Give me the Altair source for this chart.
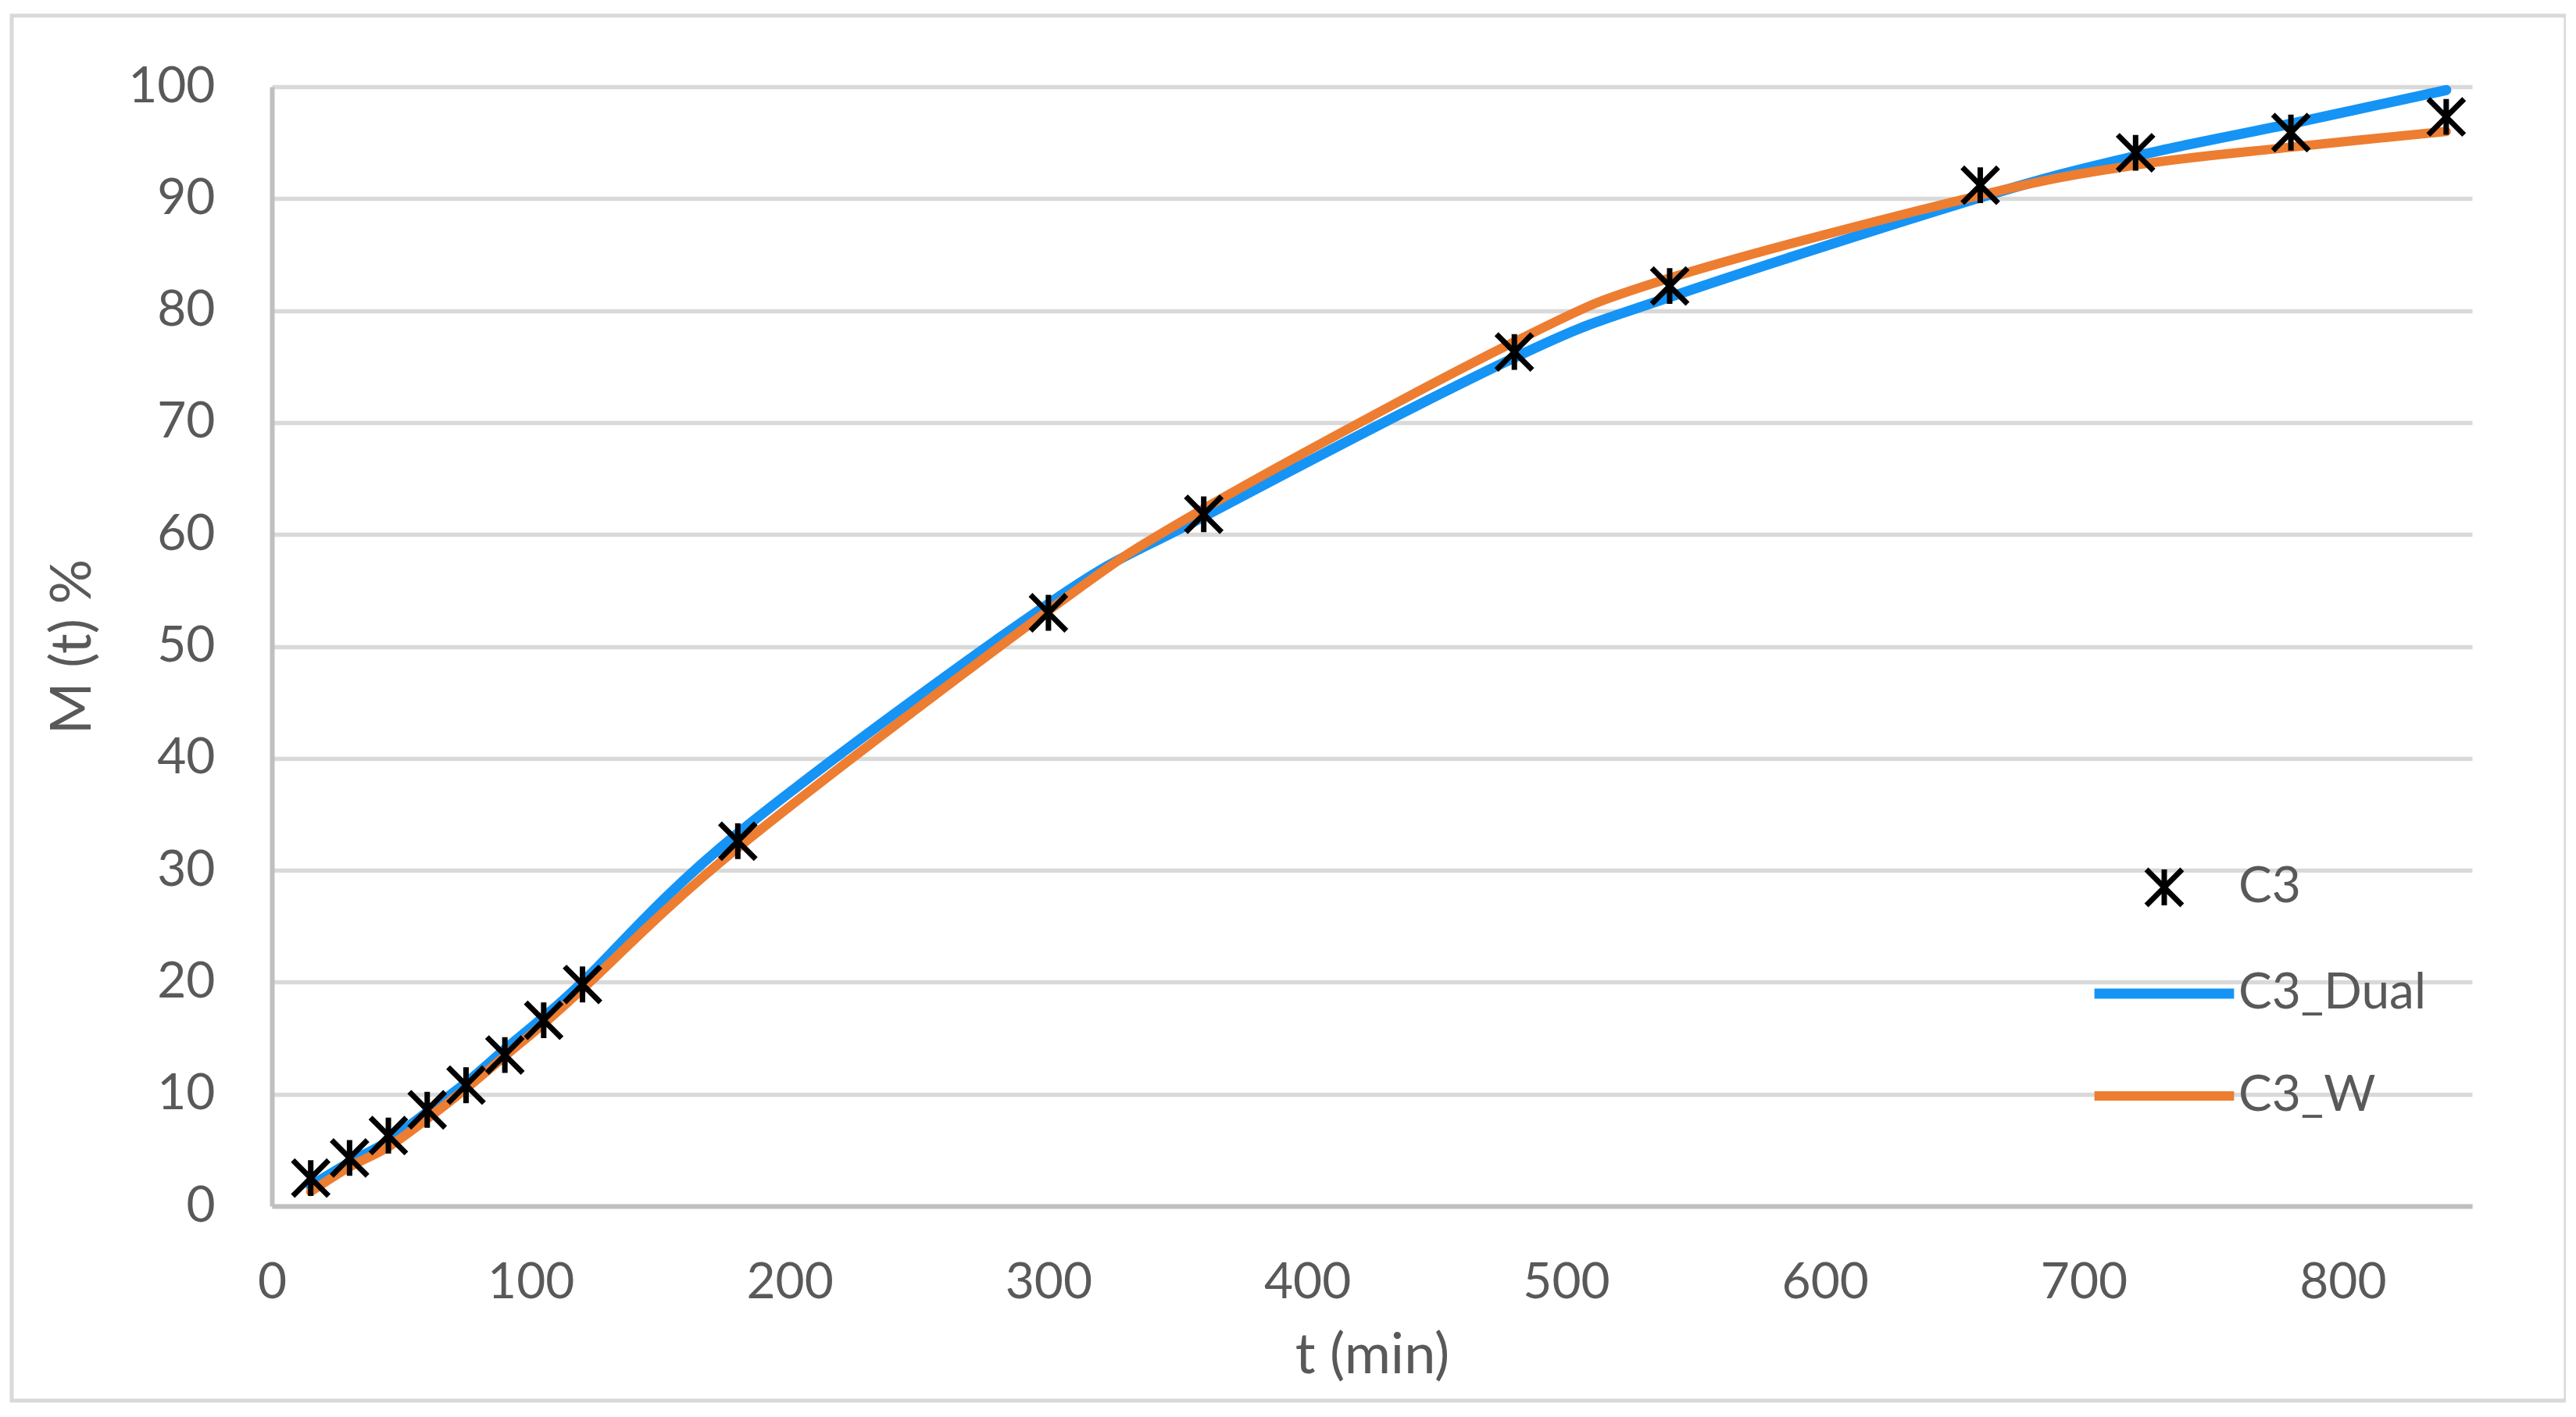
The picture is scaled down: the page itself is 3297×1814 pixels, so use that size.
import pandas as pd
import altair as alt

# release data
t_min = [15, 30, 45, 60, 75, 90, 105, 120, 180, 300, 360, 480, 540, 660, 720, 780, 840]
c3 = [2.5, 4.3, 6.3, 8.6, 10.8, 13.5, 16.6, 19.8, 32.6, 53.0, 61.8, 76.3, 82.2, 91.2, 94.1, 95.9, 97.3]
c3_dual = [1.8, 3.9, 5.8, 8.4, 11.0, 14.0, 16.9, 20.0, 33.3, 53.8, 61.6, 75.8, 81.2, 90.1, 93.8, 96.7, 99.7]
c3_w = [1.3, 3.5, 5.3, 7.8, 10.5, 13.4, 16.3, 19.4, 32.0, 53.2, 62.3, 77.2, 82.9, 90.3, 93.0, 94.6, 96.0]

series_names = ["C3", "C3_Dual", "C3_W"]
series_colors = ["#000000", "#1594F5", "#ED7D31"]
x_ticks = [0, 100, 200, 300, 400, 500, 600, 700, 800]
y_ticks = [0, 10, 20, 30, 40, 50, 60, 70, 80, 90, 100]

df = pd.concat([
    pd.DataFrame({"t": t_min, "M": c3, "series": "C3"}),
    pd.DataFrame({"t": t_min, "M": c3_dual, "series": "C3_Dual"}),
    pd.DataFrame({"t": t_min, "M": c3_w, "series": "C3_W"}),
])

FONT = "Lato"
GREY = "#595959"
ASTERISK = "M-1,-1L1,1M-1,1L1,-1M0,-1L0,1"
LINE_SYM = "M-3.9,0L3.9,0"

legend = alt.Legend(
    orient="none", legendX=2390, legendY=993,
    symbolSize=2100, labelFont=FONT, labelFontSize=64, labelColor=GREY,
    labelOffset=63, labelLimit=1000, rowPadding=67, symbolOpacity=1,
)

x = alt.X("t:Q", scale=alt.Scale(domain=[0, 850], nice=False),
          axis=alt.Axis(values=x_ticks, grid=False, ticks=False, tickSize=0,
                        domainColor="#bfbfbf", domainWidth=6,
                        labelFont=FONT, labelFontSize=64, labelColor=GREY,
                        labelPadding=66, labelFlush=False,
                        title="t (min)", titleFont=FONT, titleFontSize=72,
                        titleColor=GREY, titleFontWeight="normal",
                        titlePadding=26))
y = alt.Y("M:Q", scale=alt.Scale(domain=[0, 100], nice=False),
          axis=alt.Axis(values=y_ticks, grid=True, gridColor="#d9d9d9",
                        gridWidth=5.5, ticks=False, tickSize=0,
                        domainColor="#bfbfbf", domainWidth=6,
                        labelFont=FONT, labelFontSize=64, labelColor=GREY,
                        labelPadding=73, labelFlush=False,
                        title="M (t) %", titleFont=FONT, titleFontSize=72,
                        titleColor=GREY, titleFontWeight="normal",
                        titlePadding=33))
color = alt.Color("series:N", title=None, legend=legend,
                  scale=alt.Scale(domain=series_names, range=series_colors))
shape = alt.Shape("series:N", title=None, legend=legend,
                  scale=alt.Scale(domain=series_names,
                                  range=[ASTERISK, LINE_SYM, LINE_SYM]))
width_enc = alt.StrokeWidth("series:N", title=None, legend=legend,
                            scale=alt.Scale(type="ordinal", domain=series_names,
                                            range=[7, 13, 12]))

base = alt.Chart(df)

dual = base.transform_filter(alt.datum.series == "C3_Dual").mark_line(
    interpolate="cardinal", strokeCap="round", strokeJoin="round"
).encode(x=x, y=y, color=color, strokeWidth=width_enc)

weib = base.transform_filter(alt.datum.series == "C3_W").mark_line(
    interpolate="cardinal", strokeCap="round", strokeJoin="round"
).encode(x=x, y=y, color=color, strokeWidth=width_enc)

pts = base.transform_filter(alt.datum.series == "C3").mark_point(
    filled=False, size=2100, opacity=1
).encode(x=x, y=y, color=color, shape=shape, strokeWidth=width_enc)

border = alt.Chart(pd.DataFrame({"k": [0]})).mark_rect(
    fill="transparent", stroke="#d9d9d9", strokeWidth=5
).encode(x=alt.value(-333), x2=alt.value(2936),
         y=alt.value(-91), y2=alt.value(1682))

chart = alt.layer(border, dual, weib, pts).properties(
    width=2816, height=1433,
    autosize=alt.AutoSizeParams(type="none"),
    padding={"left": 340, "top": 103, "right": 120, "bottom": 255},
    background="white",
).configure_view(stroke=None)

chart.save("out.html", embed_options={"renderer": "svg", "actions": False})
